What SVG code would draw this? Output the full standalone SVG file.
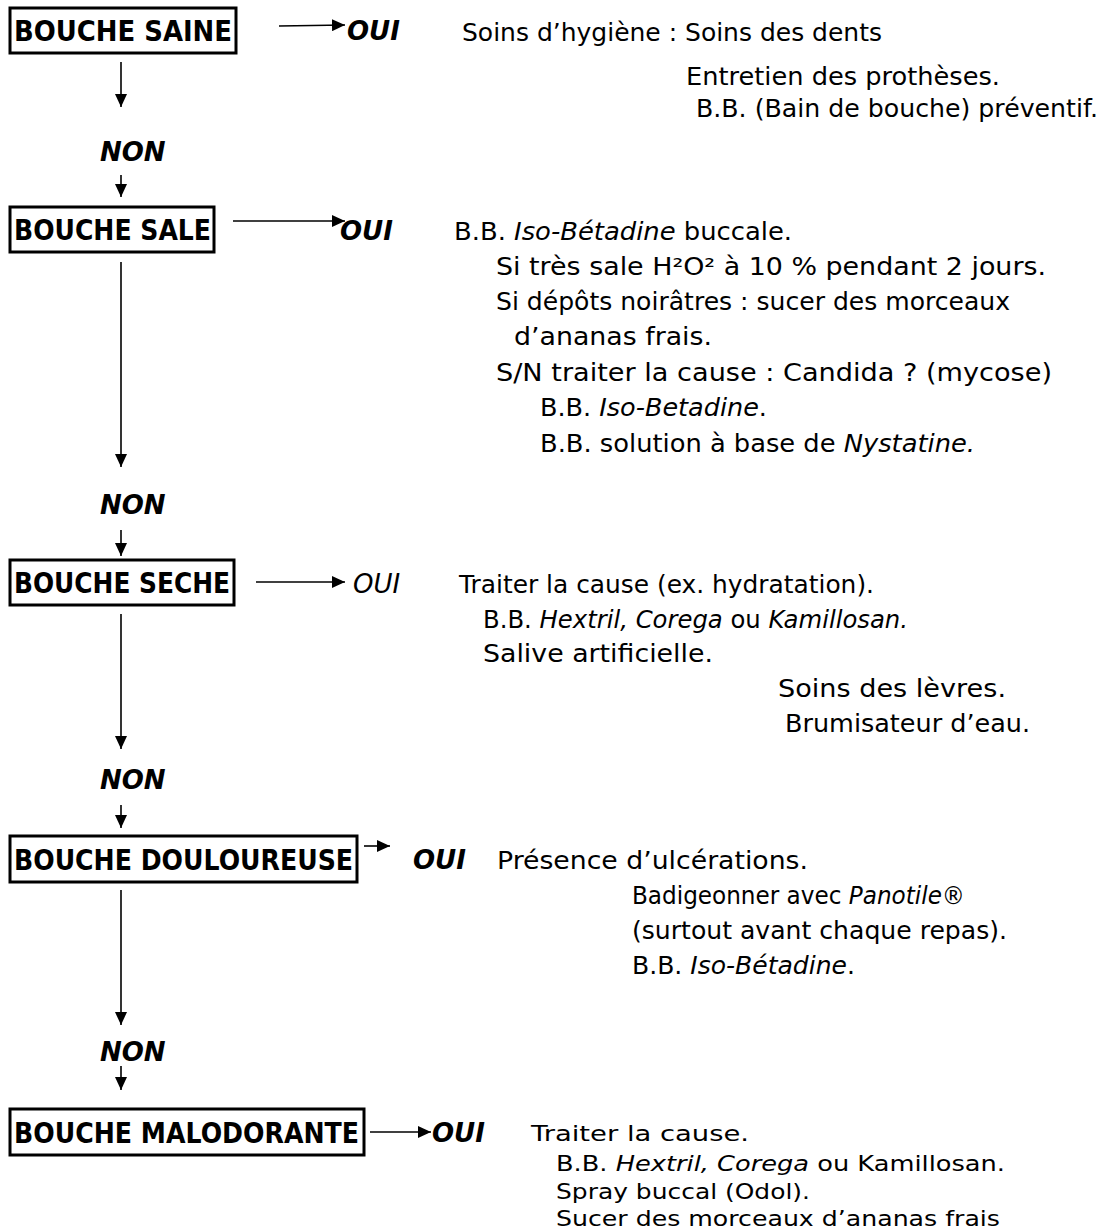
<svg xmlns="http://www.w3.org/2000/svg" width="1105" height="1230" viewBox="0 0 1105 1230">
<style>
.box{fill:none;stroke:#000;stroke-width:3}
.lbl{font-family:"DejaVu Sans","Liberation Sans",sans-serif;font-weight:bold;font-size:28px;fill:#000}
.oui{font-family:"DejaVu Sans","Liberation Sans",sans-serif;font-weight:bold;font-style:italic;font-size:26px;fill:#000}
.oui3{font-family:"DejaVu Sans","Liberation Sans",sans-serif;font-style:italic;font-size:26px;fill:#000}
.txt{font-family:"DejaVu Sans","Liberation Sans",sans-serif;font-size:24px;fill:#000}
.sm{font-size:22px}
.it{font-style:italic}
.con line{stroke:#000;stroke-width:1.6;marker-end:url(#ah)}
</style>
<defs>
<marker id="ah" markerUnits="userSpaceOnUse" markerWidth="14" markerHeight="12" refX="13" refY="6" orient="auto">
<path d="M0,0 L13,6 L0,12 Z" fill="#000"/>
</marker>
</defs>
<rect width="1105" height="1230" fill="#fff"/>

<g id="connectors" class="con">
<line x1="279" y1="26" x2="345" y2="25"/>
<line x1="121" y1="62" x2="121" y2="107"/>
<line x1="121" y1="175" x2="121" y2="197"/>
<line x1="233" y1="221" x2="345" y2="221"/>
<line x1="121" y1="262" x2="121" y2="467"/>
<line x1="121" y1="530" x2="121" y2="556"/>
<line x1="256" y1="582" x2="345" y2="582"/>
<line x1="121" y1="614" x2="121" y2="749"/>
<line x1="121" y1="805" x2="121" y2="828"/>
<line x1="364" y1="846" x2="390" y2="846"/>
<line x1="121" y1="890" x2="121" y2="1025"/>
<line x1="121" y1="1066" x2="121" y2="1090"/>
<line x1="370" y1="1132" x2="431" y2="1132"/>
</g>

<g id="n1">
<rect class="box" x="10" y="8" width="226" height="45"/>
<text class="lbl" x="14" y="41" textLength="218" lengthAdjust="spacingAndGlyphs">BOUCHE SAINE</text>
</g>
<g id="oui1"><text class="oui" x="347" y="40">OUI</text></g>
<g id="t1" class="txt">
<text x="462" y="41" textLength="420" lengthAdjust="spacingAndGlyphs">Soins d’hygiène : Soins des dents</text>
<text x="686" y="85" textLength="314" lengthAdjust="spacingAndGlyphs">Entretien des prothèses.</text>
<text x="696" y="117" textLength="402" lengthAdjust="spacingAndGlyphs">B.B. (Bain de bouche) préventif.</text>
</g>
<g id="non1"><text class="oui" x="100" y="161">NON</text></g>

<g id="n2">
<rect class="box" x="10" y="207" width="204" height="45"/>
<text class="lbl" x="14" y="240" textLength="197" lengthAdjust="spacingAndGlyphs">BOUCHE SALE</text>
</g>
<g id="oui2"><text class="oui" x="340" y="240">OUI</text></g>
<g id="t2" class="txt">
<text x="454" y="240" textLength="338" lengthAdjust="spacingAndGlyphs">B.B. <tspan class="it">Iso-Bétadine</tspan> buccale.</text>
<text x="496" y="275" textLength="550" lengthAdjust="spacingAndGlyphs">Si très sale H²O² à 10 % pendant 2 jours.</text>
<text x="496" y="310" textLength="514" lengthAdjust="spacingAndGlyphs">Si dépôts noirâtres : sucer des morceaux</text>
<text x="514" y="345" textLength="198" lengthAdjust="spacingAndGlyphs">d’ananas frais.</text>
<text x="496" y="381" textLength="556" lengthAdjust="spacingAndGlyphs">S/N traiter la cause : Candida ? (mycose)</text>
<text x="540" y="416" textLength="227" lengthAdjust="spacingAndGlyphs">B.B. <tspan class="it">Iso-Betadine</tspan>.</text>
<text x="540" y="452" textLength="435" lengthAdjust="spacingAndGlyphs">B.B. solution à base de <tspan class="it">Nystatine.</tspan></text>
</g>
<g id="non2"><text class="oui" x="100" y="514">NON</text></g>

<g id="n3">
<rect class="box" x="10" y="560" width="224" height="45"/>
<text class="lbl" x="14" y="593" textLength="216" lengthAdjust="spacingAndGlyphs">BOUCHE SECHE</text>
</g>
<g id="oui3"><text class="oui3" x="353" y="593">OUI</text></g>
<g id="t3" class="txt">
<text x="459" y="593" textLength="415" lengthAdjust="spacingAndGlyphs">Traiter la cause (ex. hydratation).</text>
<text x="483" y="628" textLength="425" lengthAdjust="spacingAndGlyphs">B.B. <tspan class="it">Hextril, Corega</tspan> ou <tspan class="it">Kamillosan.</tspan></text>
<text x="483" y="662" textLength="230" lengthAdjust="spacingAndGlyphs">Salive artificielle.</text>
<text x="778" y="697" textLength="228" lengthAdjust="spacingAndGlyphs">Soins des lèvres.</text>
<text x="785" y="732" textLength="245" lengthAdjust="spacingAndGlyphs">Brumisateur d’eau.</text>
</g>
<g id="non3"><text class="oui" x="100" y="789">NON</text></g>

<g id="n4">
<rect class="box" x="10" y="836" width="347" height="46"/>
<text class="lbl" x="14" y="870" textLength="339" lengthAdjust="spacingAndGlyphs">BOUCHE DOULOUREUSE</text>
</g>
<g id="oui4"><text class="oui" x="413" y="869">OUI</text></g>
<g id="t4" class="txt">
<text x="497" y="869" textLength="311" lengthAdjust="spacingAndGlyphs">Présence d’ulcérations.</text>
<text x="632" y="904" textLength="333" lengthAdjust="spacingAndGlyphs">Badigeonner avec <tspan class="it">Panotile®</tspan></text>
<text x="632" y="939" textLength="375" lengthAdjust="spacingAndGlyphs">(surtout avant chaque repas).</text>
<text x="632" y="974" textLength="223" lengthAdjust="spacingAndGlyphs">B.B. <tspan class="it">Iso-Bétadine</tspan>.</text>
</g>
<g id="non4"><text class="oui" x="100" y="1061">NON</text></g>

<g id="n5">
<rect class="box" x="10" y="1109" width="354" height="46"/>
<text class="lbl" x="14" y="1143" textLength="345" lengthAdjust="spacingAndGlyphs">BOUCHE MALODORANTE</text>
</g>
<g id="oui5"><text class="oui" x="432" y="1142">OUI</text></g>
<g id="t5" class="txt sm">
<text x="531" y="1141" textLength="218" lengthAdjust="spacingAndGlyphs">Traiter la cause.</text>
<text x="556" y="1171" textLength="449" lengthAdjust="spacingAndGlyphs">B.B. <tspan class="it">Hextril, Corega</tspan> ou Kamillosan.</text>
<text x="556" y="1199" textLength="254" lengthAdjust="spacingAndGlyphs">Spray buccal (Odol).</text>
<text x="556" y="1226" textLength="444" lengthAdjust="spacingAndGlyphs">Sucer des morceaux d’ananas frais</text>
</g>
</svg>
